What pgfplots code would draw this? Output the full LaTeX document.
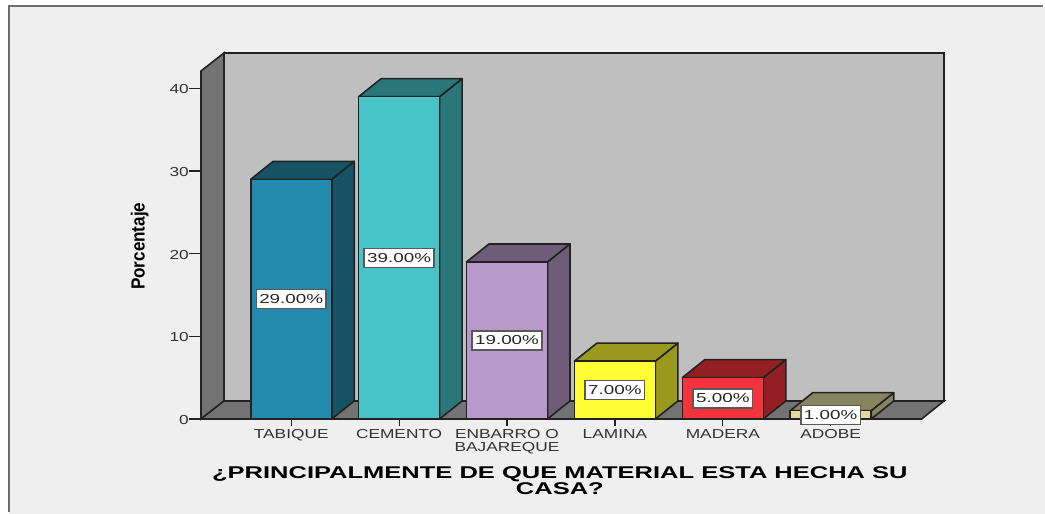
\documentclass[border=0pt]{standalone}
\usepackage{fontspec}
\usepackage{pgfplots}
\pgfplotsset{compat=1.18}
\setmainfont{Liberation Sans}
\newfontfamily\widefont[FakeStretch=1.33]{Liberation Sans}
\newfontfamily\valuefont[FakeStretch=1.45]{Liberation Sans}
\newfontfamily\titlefont[FakeStretch=1.5]{Liberation Sans}
\newfontfamily\ylabelfont[FakeStretch=0.9]{Liberation Sans}

\definecolor{panel}{HTML}{EFEFEF}
\definecolor{wall}{HTML}{BFBFBF}
\definecolor{floorc}{HTML}{737373}
\definecolor{edge}{HTML}{222222}
\definecolor{frame}{HTML}{6E6E6E}
\definecolor{tabF}{HTML}{2389AD}\definecolor{tabS}{HTML}{165365}\definecolor{tabT}{HTML}{165365}
\definecolor{cemF}{HTML}{47C4C8}\definecolor{cemS}{HTML}{2B7678}\definecolor{cemT}{HTML}{2B7678}
\definecolor{enbF}{HTML}{B89ACA}\definecolor{enbS}{HTML}{6E5C79}\definecolor{enbT}{HTML}{6E5C79}
\definecolor{lamF}{HTML}{FFFF33}\definecolor{lamS}{HTML}{99991E}\definecolor{lamT}{HTML}{99991E}
\definecolor{madF}{HTML}{F5333D}\definecolor{madS}{HTML}{931F24}\definecolor{madT}{HTML}{931F24}
\definecolor{adoF}{HTML}{E0DA9E}\definecolor{adoS}{HTML}{87855F}\definecolor{adoT}{HTML}{87855F}

% side and top faces of a bar: {x}{value}{colour stem}
\newcommand{\barfaces}[3]{%
  \pgfmathsetmacro\xl{#1-0.3753}%
  \pgfmathsetmacro\xr{#1+0.3753}%
  \pgfmathsetmacro\xlb{#1-0.3753+0.2085}%
  \pgfmathsetmacro\xrb{#1+0.3753+0.2085}%
  \pgfmathsetmacro\yb{#2+2.178}%
  \addplot[fill=#3S,draw=edge,line width=1.6pt,line join=round] coordinates {(\xr,0) (\xrb,2.178) (\xrb,\yb) (\xr,#2)} -- cycle;
  \addplot[fill=#3T,draw=edge,line width=1.6pt,line join=round] coordinates {(\xl,#2) (\xlb,\yb) (\xrb,\yb) (\xr,#2)} -- cycle;
}

\begin{document}
\begin{tikzpicture}
\begin{axis}[
  set layers,
  scale only axis,
  width=720.7pt, height=348pt,
  xmin=-0.836, xmax=5.843,
  ymin=0, ymax=42.11,
  clip=false,
  axis x line=bottom, axis y line=left,
  axis line style={-,edge,line width=1.6pt},
  tick align=outside,
  ytick={0,10,20,30,40},
  xtick={0,1,2,3,4,5},
  xticklabels={TABIQUE,CEMENTO,{ENBARRO O\\BAJAREQUE},LAMINA,MADERA,ADOBE},
  major tick length=12pt,
  xtick style={/pgfplots/major tick length=7pt,edge,line width=1.2pt},
  ytick style={edge,line width=1.2pt},
  /pgf/number format/assume math mode=true,
  tick label style={font=\widefont\fontsize{13}{12.5}\selectfont,text=black!80},
  xticklabel style={align=center,inner sep=0pt,yshift=1.5pt},
  yticklabel style={inner sep=0pt,yshift=-1pt},
  xlabel={¿PRINCIPALMENTE DE QUE MATERIAL ESTA HECHA SU\\CASA?},
  xlabel style={at={(axis cs:2.49,-5.7)},anchor=north,align=center,inner sep=0pt,
    font=\titlefont\bfseries\fontsize{17}{15}\selectfont},
  ylabel={Porcentaje},
  ylabel style={at={(axis cs:-1.403,20.9)},anchor=center,inner sep=0pt,rotate=0,
    font=\ylabelfont\bfseries\fontsize{19}{19}\selectfont},
]
% page and panel
\addplot[on layer=axis background,fill=white,draw=none] coordinates {(-2.699,-11.50) (6.986,-11.50) (6.986,50.70) (-2.699,50.70)} -- cycle;
\addplot[on layer=axis background,fill=panel,draw=none] coordinates {(-2.620,-11.50) (6.986,-11.50) (6.986,49.97) (-2.620,49.97)} -- cycle;
\addplot[on layer=axis background,draw=frame,line width=2pt] coordinates {(-2.620,-11.3) (-2.620,49.97) (6.97,49.97)};
% walls and floor
\addplot[fill=wall,draw=edge,line width=1.6pt] coordinates {(-0.623,2.178) (6.050,2.178) (6.050,44.29) (-0.623,44.29)} -- cycle;
\addplot[fill=floorc,draw=edge,line width=1.6pt] coordinates {(-0.623,44.29) (-0.836,42.11) (-0.836,0) (-0.623,2.178)} -- cycle;
\addplot[fill=floorc,draw=edge,line width=1.6pt] coordinates {(-0.836,0) (-0.623,2.178) (6.050,2.178) (5.843,0)} -- cycle;
% bars
\barfaces{0}{29}{tab}
\addplot[ybar,bar width=81pt,fill=tabF,draw=edge,line width=1.6pt] coordinates {(0,29)};
\barfaces{1}{39}{cem}
\addplot[ybar,bar width=81pt,fill=cemF,draw=edge,line width=1.6pt] coordinates {(1,39)};
\barfaces{2}{19}{enb}
\addplot[ybar,bar width=81pt,fill=enbF,draw=edge,line width=1.6pt] coordinates {(2,19)};
\barfaces{3}{7}{lam}
\addplot[ybar,bar width=81pt,fill=lamF,draw=edge,line width=1.6pt] coordinates {(3,7)};
\barfaces{4}{5}{mad}
\addplot[ybar,bar width=81pt,fill=madF,draw=edge,line width=1.6pt] coordinates {(4,5)};
\barfaces{5}{1}{ado}
\addplot[ybar,bar width=81pt,fill=adoF,draw=edge,line width=1.6pt] coordinates {(5,1)};
% value labels at mid height
\addplot[draw=none,point meta=explicit symbolic,
  nodes near coords,
  every node near coord/.append style={anchor=center,fill=white,draw=black!65,line width=1.5pt,
    text=black!85,inner xsep=3pt,inner ysep=0pt,minimum height=19pt,
    font=\valuefont\fontsize{13}{13}\selectfont}]
  coordinates {(0,14.5)[29.00\%] (1,19.5)[39.00\%] (2,9.5)[19.00\%] (3,3.5)[7.00\%] (4,2.5)[5.00\%] (5,0.5)[1.00\%]};
\end{axis}
\end{tikzpicture}
\end{document}
